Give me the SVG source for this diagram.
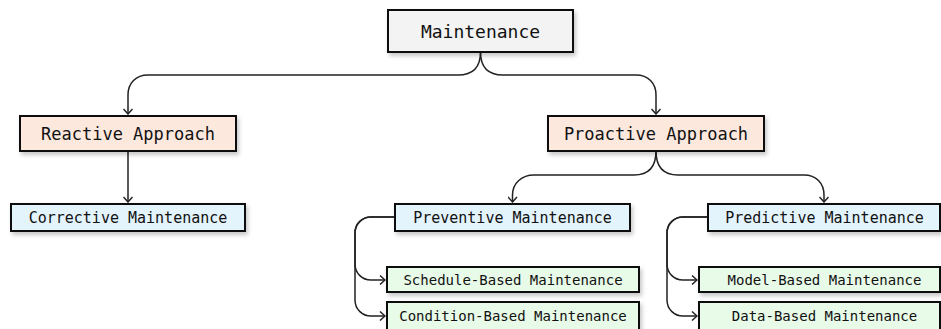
<svg xmlns="http://www.w3.org/2000/svg" width="941" height="329" viewBox="0 0 941 329">
  <style>
    .box { stroke: #111; stroke-width: 2; filter: url(#shadow); }
    .root { fill: #f3f3f3; }
    .approach { fill: #fde8de; }
    .kind { fill: #e3f4fc; }
    .leaf { fill: #e8fae8; }
    .label { font-family: "DejaVu Sans Mono", "Liberation Mono", monospace; fill: #111; text-anchor: middle; dominant-baseline: central; }
    .edge { fill: none; stroke: #222; stroke-width: 1.5; marker-end: url(#arrow); }
  </style>
  <defs>
    <filter id="shadow" x="-10%" y="-20%" width="125%" height="160%">
      <feDropShadow dx="2" dy="3" stdDeviation="2" flood-color="#000" flood-opacity="0.22"/>
    </filter>
    <marker id="arrow" viewBox="0 0 10 10" refX="9" refY="5" markerWidth="10" markerHeight="10" markerUnits="userSpaceOnUse" orient="auto">
      <path d="M4,0.5 L9,5 L4,9.5" fill="none" stroke="#222" stroke-width="1.5"/>
    </marker>
  </defs>
  <rect width="941" height="329" fill="#fff"/>

  <g id="connectors">
    <path class="edge" d="M480.5,52 C480.5,68 472,75 458,75 H148 C136,75 128,83 128,95 V114"/>
    <path class="edge" d="M480.5,52 C480.5,68 489,75 503,75 H636 C648,75 656,83 656,95 V114"/>
    <path class="edge" d="M128,151 V202"/>
    <path class="edge" d="M656,151 C656,167 648,175 634,175 H534 C522,175 512.5,183 512.5,195 V202"/>
    <path class="edge" d="M656,151 C656,167 664,175 678,175 H804 C816,175 824,183 824,195 V202"/>
    <path class="edge" d="M395,217 H371 C362,217 355,224 355,233 V264 C355,273 362,280 371,280 H385"/>
    <path class="edge" d="M395,217 H371 C362,217 355,224 355,233 V300 C355,309 362,316 371,316 H385"/>
    <path class="edge" d="M708,217 H683 C674,217 667,224 667,233 V264 C667,273 674,280 683,280 H697"/>
    <path class="edge" d="M708,217 H683 C674,217 667,224 667,233 V300 C667,309 674,316 683,316 H697"/>
  </g>

  <g id="maintenance">
    <rect class="box root" x="388" y="10" width="185" height="42"/>
    <text class="label" x="480.5" y="31" font-size="18">Maintenance</text>
  </g>
  <g id="reactive-approach">
    <rect class="box approach" x="20" y="116" width="216" height="35"/>
    <text class="label" x="128" y="133.5" font-size="17">Reactive Approach</text>
  </g>
  <g id="proactive-approach">
    <rect class="box approach" x="548" y="116" width="216" height="35"/>
    <text class="label" x="656" y="133.5" font-size="17">Proactive Approach</text>
  </g>
  <g id="corrective-maintenance">
    <rect class="box kind" x="11" y="204" width="234" height="27"/>
    <text class="label" x="128" y="217.5" font-size="15">Corrective Maintenance</text>
  </g>
  <g id="preventive-maintenance">
    <rect class="box kind" x="395" y="204" width="235" height="27"/>
    <text class="label" x="512.5" y="217.5" font-size="15">Preventive Maintenance</text>
  </g>
  <g id="predictive-maintenance">
    <rect class="box kind" x="708" y="204" width="232" height="27"/>
    <text class="label" x="824.5" y="217.5" font-size="15">Predictive Maintenance</text>
  </g>
  <g id="schedule-based-maintenance">
    <rect class="box leaf" x="387" y="267" width="252" height="25"/>
    <text class="label" x="513" y="279.5" font-size="14">Schedule-Based Maintenance</text>
  </g>
  <g id="condition-based-maintenance">
    <rect class="box leaf" x="387" y="302" width="252" height="28"/>
    <text class="label" x="513" y="316" font-size="14">Condition-Based Maintenance</text>
  </g>
  <g id="model-based-maintenance">
    <rect class="box leaf" x="699" y="267" width="241" height="25"/>
    <text class="label" x="824.5" y="279.5" font-size="14">Model-Based Maintenance</text>
  </g>
  <g id="data-based-maintenance">
    <rect class="box leaf" x="699" y="302" width="241" height="28"/>
    <text class="label" x="824.5" y="316" font-size="14">Data-Based Maintenance</text>
  </g>
</svg>
